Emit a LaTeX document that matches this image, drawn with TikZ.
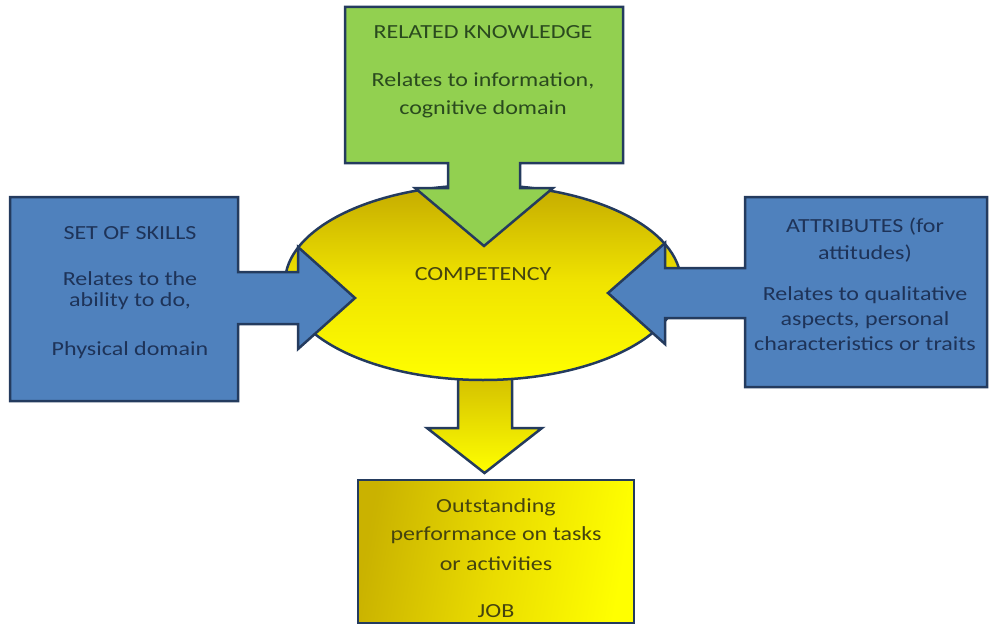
\documentclass[tikz,border=0pt]{standalone}
\usepackage{fontspec}
\setmainfont{Carlito}[FakeStretch=1.2]
\definecolor{navy}{HTML}{243B5E}
\definecolor{gfill}{HTML}{92D050}
\definecolor{bfill}{HTML}{4F81BD}
\definecolor{ydark}{HTML}{C4AA00}
\definecolor{ymid}{HTML}{F0E400}
\definecolor{ybright}{HTML}{FFFF00}
\definecolor{gtext}{HTML}{2A4A1E}
\definecolor{btext}{HTML}{1E3358}
\definecolor{ytext}{HTML}{45440F}
\tikzset{
  outline/.style={draw=navy, line width=2.5pt, line join=miter},
  txt/.style={anchor=base, inner sep=0pt, font=\fontsize{20}{24}\selectfont},
}
\begin{document}
\begin{tikzpicture}[x=1pt,y=-1pt]
\useasboundingbox (0,0) rectangle (990,626);
% named reference points
\coordinate (ec) at (483,282.5);
% bottom arrow (competency -> job)
\draw[outline, top color=ydark!80!ybright, bottom color=ybright]
  (458,368) -- (512,368) -- (512,428) -- (542,428) -- (484.5,473) -- (427,428) -- (458,428) -- cycle;
% competency ellipse
\draw[outline, top color=ydark, bottom color=ybright, middle color=ymid]
  (ec) ellipse [x radius=198, y radius=97.5];
% related knowledge callout
\draw[outline, fill=gfill]
  (345,7) -- (623,7) -- (623,163) -- (520,163) -- (520,188) -- (553,188)
  -- (484,246) -- (415,188) -- (448,188) -- (448,163) -- (345,163) -- cycle;
% set of skills callout
\draw[outline, fill=bfill]
  (10,197) -- (238,197) -- (238,272) -- (298,272) -- (298,247) -- (355,298)
  -- (298,349) -- (298,324) -- (238,324) -- (238,401) -- (10,401) -- cycle;
% attributes callout
\draw[outline, fill=bfill]
  (987,197) -- (745,197) -- (745,268) -- (665,268) -- (665,243) -- (608,293)
  -- (665,344) -- (665,318) -- (745,318) -- (745,387) -- (987,387) -- cycle;
% job box
\draw[outline, left color=ydark!90!ybright, right color=ybright, middle color=ymid!85!ydark, shading angle=80]
  (358,480) rectangle (634,623);
% texts
\node[txt, text=gtext] (rk)  at (483,39)  {RELATED KNOWLEDGE};
\node[txt, text=gtext] (rk1) at (483,86)  {Relates to information,};
\node[txt, text=gtext] (rk2) at (483,114) {cognitive domain};
\node[txt, text=btext] (sk)  at (130,239) {SET OF SKILLS};
\node[txt, text=btext] (sk1) at (130,285) {Relates to the};
\node[txt, text=btext] (sk2) at (130,306) {ability to do,};
\node[txt, text=btext] (sk3) at (130,355) {Physical domain};
\node[txt, text=btext] (at)  at (865,232) {ATTRIBUTES (for};
\node[txt, text=btext] (at1) at (865,259) {attitudes)};
\node[txt, text=btext] (at2) at (865,300) {Relates to qualitative};
\node[txt, text=btext] (at3) at (865,325) {aspects, personal};
\node[txt, text=btext] (at4) at (865,350) {characteristics or traits};
\node[txt, text=ytext] (cp)  at (483,280) {COMPETENCY};
\node[txt, text=ytext] (jb1) at (496,512) {Outstanding};
\node[txt, text=ytext] (jb2) at (496,540) {performance on tasks};
\node[txt, text=ytext] (jb3) at (496,570) {or activities};
\node[txt, text=ytext] (jb)  at (496,617) {JOB};
\end{tikzpicture}
\end{document}
